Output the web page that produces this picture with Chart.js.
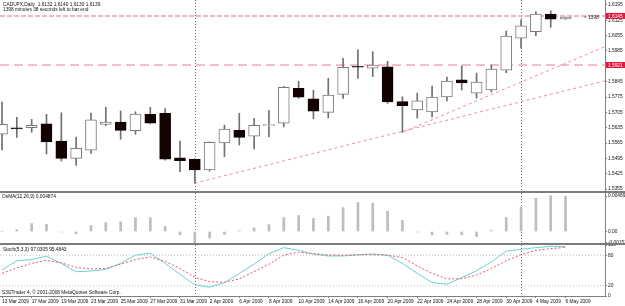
<!DOCTYPE html>
<html><head><meta charset="utf-8">
<script src="https://cdn.jsdelivr.net/npm/chart.js@4"></script>
<style>
html,body{margin:0;padding:0;background:#fff;}
#wrap{position:relative;width:625px;height:306px;overflow:hidden;background:#fff;}
canvas{position:absolute;left:0;}
.sep{position:absolute;left:0;width:625px;height:2px;background:#7c7c7c;}
</style></head><body>
<div id="wrap">
<canvas id="cMain" width="625" height="191" style="top:0"></canvas>
<div class="sep" style="top:191px"></div>
<canvas id="cOsma" width="625" height="50" style="top:193px"></canvas>
<div class="sep" style="top:243px"></div>
<canvas id="cStoch" width="625" height="61" style="top:245px"></canvas>
</div>
<script>
// ---------- data ----------
const dates = ['13 Mar 2009','16 Mar 2009','17 Mar 2009','18 Mar 2009','19 Mar 2009','20 Mar 2009','23 Mar 2009','24 Mar 2009','25 Mar 2009','26 Mar 2009','27 Mar 2009','30 Mar 2009','31 Mar 2009','1 Apr 2009','2 Apr 2009','3 Apr 2009','6 Apr 2009','7 Apr 2009','8 Apr 2009','9 Apr 2009','10 Apr 2009','13 Apr 2009','14 Apr 2009','15 Apr 2009','16 Apr 2009','17 Apr 2009','20 Apr 2009','21 Apr 2009','22 Apr 2009','23 Apr 2009','24 Apr 2009','27 Apr 2009','28 Apr 2009','29 Apr 2009','30 Apr 2009','1 May 2009','4 May 2009','5 May 2009','6 May 2009'];
const open  = [1.5605,1.5634,1.5635,1.5653,1.5574,1.5495,1.5532,1.5650,1.5661,1.5621,1.5696,1.5701,1.5497,1.5491,1.5442,1.5565,1.5623,1.5596,1.5644,1.5655,1.5815,1.5767,1.5705,1.5787,1.5915,1.5907,1.5913,1.5754,1.5716,1.5707,1.5775,1.5853,1.5793,1.5807,1.5898,1.6043,1.6073,1.6153,1.6132];
const high  = [1.5752,1.5682,1.5673,1.5696,1.5703,1.5592,1.5702,1.5728,1.5711,1.5708,1.5728,1.5722,1.5574,1.5494,1.5570,1.5647,1.5701,1.5678,1.5714,1.5824,1.5847,1.5806,1.5860,1.5952,1.5990,1.5982,1.5938,1.5776,1.5793,1.5825,1.5866,1.5917,1.5884,1.5921,1.6076,1.6127,1.6164,1.6168,1.6140];
const low   = [1.5533,1.5591,1.5614,1.5515,1.5483,1.5463,1.5518,1.5644,1.5582,1.5605,1.5652,1.5487,1.5434,1.5382,1.5437,1.5502,1.5556,1.5538,1.5594,1.5639,1.5769,1.5676,1.5679,1.5769,1.5860,1.5868,1.5746,1.5614,1.5679,1.5684,1.5757,1.5807,1.5770,1.5798,1.5886,1.5999,1.6055,1.6093,1.6130];
const close = [1.5650,1.5629,1.5646,1.5570,1.5495,1.5541,1.5671,1.5660,1.5623,1.5697,1.5655,1.5491,1.5484,1.5442,1.5568,1.5629,1.5591,1.5646,1.5649,1.5819,1.5774,1.5710,1.5784,1.5911,1.5911,1.5921,1.5752,1.5735,1.5757,1.5775,1.5848,1.5839,1.5843,1.5903,1.6053,1.6100,1.6153,1.6130,1.6139];
const osma  = [0.00000,0.00027,0.00109,0.00099,-0.00007,-0.00031,0.00082,0.00122,0.00132,0.00190,0.00190,0.00072,-0.00045,-0.00153,-0.00090,-0.00040,0.00010,0.00050,0.00095,0.00190,0.00220,0.00180,0.00210,0.00330,0.00400,0.00390,0.00280,0.00152,-0.00007,-0.00046,-0.00041,-0.00046,-0.00069,0.00014,0.00193,0.00336,0.00460,0.00492,0.004874];
const stochK = [51,69,71.5,78,64,47.6,49,52,64,80,84,64,42.5,22,17.4,26,44,62.5,83,94.8,89.5,82,78.5,78.5,80.5,82.4,80,64,44.5,26.4,23,36,49.5,67,88,91.5,94.8,97.3,97.0305];
const stochD = [44.5,55,64,70,65,56,53,54,62.5,71.5,76.6,68,54,36.7,28,27,33.5,47.6,62.5,80,86,83,80.5,80,81,81,80,75.4,59,44.5,33.5,34,41,54,69,81,89.5,92.8,95.4843];

const priceTicks = [1.6195,1.6125,1.6055,1.5985,1.5915,1.5845,1.5775,1.5705,1.5635,1.5565,1.5495,1.5425,1.5355];
const osmaTicks = [0.00489,0,-0.00153];
const osmaTickText = ['0.004890','0.00','-0.00153'];
const stochTicks = [100,80,20,0];
const stochLevels = [80,20];
const dateTickIdx = [0,2,4,6,8,10,12,14,16,18,20,22,24,26,28,30,32,34,36,38];
const separatorDates = ['1 Apr 2009','1 May 2009'];
const priceLevels = [1.6145, 1.5921];
const trendLines = [ [[13,1.5382],[40.66,1.5849]], [[27,1.5614],[40.66,1.6005]] ];

// ---------- ranges ----------
const X_MIN = -0.135, X_MAX = 40.66;
const P_MIN = 1.53459, P_MAX = 1.62178;
const O_MIN = -0.001587, O_MAX = 0.005314;

const FONT = "'Liberation Sans Narrow','Liberation Sans',Arial,sans-serif";
const FS = 4.8;
Chart.defaults.font.family = FONT;
Chart.defaults.font.size = FS;
Chart.defaults.color = '#000';

const idx = dates.map((d,i)=>i);
const bull = idx.map(i => close[i] >= open[i]);

function xAxis(show){
  const a = { type:'linear', min:X_MIN, max:X_MAX, offset:false, display:show,
    grid:{drawOnChartArea:false, tickLength:2, color:'#808080'},
    border:{color:'#808080'} };
  if (show){
    a.afterBuildTicks = s => { s.ticks = dateTickIdx.map(v=>({value:v})); };
    a.afterFit = s => { s.height = 10; s.paddingLeft = 0; s.paddingRight = 0; };
    a.ticks = { autoSkip:false, maxRotation:0, minRotation:0, align:'start', padding:1,
      font:{size:FS, family:FONT}, color:'#111', callback: v => dates[v] };
  }
  return a;
}
function yAxis(min,max,ticks,cb){
  return { position:'right', min, max,
    afterBuildTicks: s => { s.ticks = ticks.map(v=>({value:v})); },
    afterFit: s => { s.width = 20; s.paddingTop = 0; s.paddingBottom = 0; },
    ticks:{ font:{size:FS, family:FONT}, color:'#111', padding:1, callback:cb },
    grid:{ drawOnChartArea:false, tickLength:2, color:'#808080' },
    border:{ color:'#808080' } };
}
function hline(v, color, dash, w){
  return { type:'line', data:[{x:X_MIN,y:v},{x:X_MAX,y:v}], borderColor:color, borderDash:dash,
    borderWidth:w, pointRadius:0, order:10 };
}
const vSep = { id:'vsep', beforeDatasetsDraw(chart){
  const {ctx, chartArea:a, scales:{x}} = chart;
  ctx.save(); ctx.strokeStyle='#6a6a6a'; ctx.lineWidth=1; ctx.setLineDash([1,2]);
  separatorDates.forEach(d=>{ const px=Math.round(x.getPixelForValue(dates.indexOf(d)))+0.5;
    ctx.beginPath(); ctx.moveTo(px,a.top); ctx.lineTo(px,a.bottom); ctx.stroke(); });
  ctx.restore(); } };
function texts(list){
  return { id:'texts', afterDraw(chart){ const c=chart.ctx; c.save();
    list.forEach(t=>{ c.font=(t.bold?'bold ':'')+(t.size||FS)+'px '+FONT; c.fillStyle=t.color||'#111';
      c.textBaseline='middle'; c.textAlign='left'; c.fillText(t.text,t.x,t.y); });
    c.restore(); } };
}
const base = { responsive:false, maintainAspectRatio:false, animation:false, events:[],
  layout:{padding:0}, plugins:{legend:{display:false}, tooltip:{enabled:false}} };

// ---------- main price chart ----------
const priceLabels = { id:'plabels', afterDraw(chart){
  const {ctx, scales:{y}} = chart; ctx.save();
  priceLevels.forEach(v=>{ const py=y.getPixelForValue(v);
    ctx.fillStyle='#e3173e'; ctx.fillRect(606,py-3,19,6);
    ctx.fillStyle='#fff'; ctx.font=FS+'px '+FONT; ctx.textBaseline='middle'; ctx.textAlign='left';
    ctx.fillText(v.toFixed(4),608,py+0.3); });
  ctx.restore(); } };

new Chart(document.getElementById('cMain'), {
  type:'bar',
  data:{ datasets:[
    hline(priceLevels[0], '#f0b4c2', [5,2], 2),
    hline(priceLevels[1], '#ea7c93', [9,5], 1),
    ...trendLines.map(t=>({ type:'line', data:t.map(p=>({x:p[0],y:p[1]})), borderColor:'#f08a9e',
      borderDash:[3,3], borderWidth:1, pointRadius:0, order:10 })),
    { data: idx.map(i=>({x:i, y:[low[i], high[i]]})), backgroundColor:'#707070',
      barThickness:1, grouped:false, order:2 },
    { data: idx.map(i=>({x:i, y:[open[i], close[i]]})),
      backgroundColor: idx.map(i=> bull[i] ? '#ffffff' : '#120202'),
      borderColor: idx.map(i=> bull[i] ? '#7a7a7a' : '#120202'),
      borderWidth:1, borderSkipped:false, barThickness:11, grouped:false, order:1 }
  ]},
  options:{ ...base, scales:{ x:xAxis(false), y:yAxis(P_MIN,P_MAX,priceTicks, v=>v.toFixed(4)) } },
  plugins:[vSep, priceLabels, texts([
    {text:'CADUPX,Daily  1.6132 1.6140 1.6130 1.6139', x:3, y:5},
    {text:'1398 minutes 38 seconds left to bar end', x:3, y:9.5},
    {text:'< 1398', x:584, y:18, color:'#222'}
  ])]
});

// ---------- OsMA ----------
new Chart(document.getElementById('cOsma'), {
  type:'bar',
  data:{ datasets:[ { data: idx.map(i=>({x:i, y:osma[i]})), backgroundColor:'#bdbdbd',
    barThickness:2, grouped:false } ] },
  options:{ ...base, scales:{ x:xAxis(false),
    y:yAxis(O_MIN,O_MAX,osmaTicks,(v)=>{ const k=osmaTicks.indexOf(v); return k>=0?osmaTickText[k]:''; }) } },
  plugins:[vSep, texts([{text:'OsMA(12,26,9) 0.004874', x:2, y:3.5}])]
});

// ---------- Stochastic ----------
new Chart(document.getElementById('cStoch'), {
  type:'line',
  data:{ datasets:[
    ...stochLevels.map(v=>hline(v,'#bcbcbc',[1,2],1)),
    { data: idx.map(i=>({x:i,y:stochK[i]})), borderColor:'#6cd0d0', borderWidth:1, pointRadius:0, tension:0, order:2 },
    { data: idx.map(i=>({x:i,y:stochD[i]})), borderColor:'#e8546c', borderDash:[2,2], borderWidth:1, pointRadius:0, tension:0, order:1 }
  ]},
  options:{ ...base, scales:{ x:xAxis(true), y:yAxis(0,100,stochTicks, v=>String(v)) } },
  plugins:[vSep, texts([
    {text:'Stoch(5,3,3) 97.0305 95.4843', x:3, y:5},
    {text:'S3GTrader 4, \u00A9 2001-2008 MetaQuotes Software Corp.', x:2, y:48}
  ])]
});
</script>
</body></html>
